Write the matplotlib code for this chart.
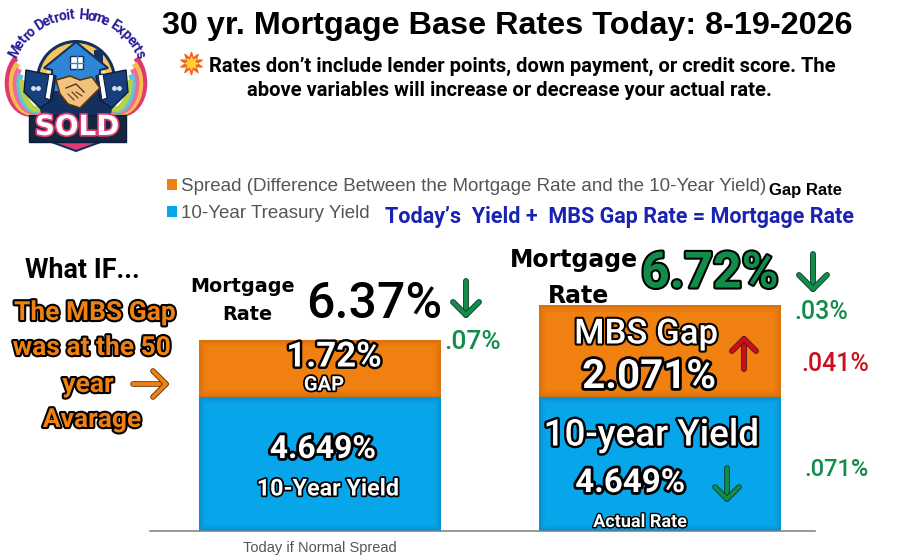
import numpy as np
import matplotlib
matplotlib.use('Agg')
import matplotlib.pyplot as plt
import matplotlib.patheffects as pe
from matplotlib.patches import Polygon, Circle, Rectangle, PathPatch
from matplotlib.path import Path

# --- data ---
bar_names = ['Today if Normal Spread', '']
yield_vals = [4.649, 4.649]
spread_vals = [1.98, 3.19]   # drawn heights, the labels on the bars say otherwise
legend_labels = ['Spread (Difference Between the Mortgage Rate and the 10-Year Yield)',
                 '10-Year Treasury Yield']

ORANGE = '#F0800F'
BLUE = '#07A6EA'
GREEN = '#118C4B'
RED = '#C8101E'
NAVY = '#14305F'

fig = plt.figure(figsize=(9, 5.6), dpi=100, facecolor='white')

# chart axes, bottom sits on the grey baseline
ax = fig.add_axes([150/900, 1-531/560, 665/900, 226/560])
x = np.arange(len(bar_names))
bars1 = ax.bar(x, yield_vals, width=0.712, color=BLUE, zorder=2)
bars2 = ax.bar(x, spread_vals, width=0.712, bottom=yield_vals, color=ORANGE, zorder=2)
ax.set_xlim(-0.5, 1.456)
ax.set_ylim(0, 226*4.649/134)
ax.set_xticks(x)
ax.set_xticklabels(bar_names, family='Liberation Sans', fontsize=10.5, color='#555555')
ax.tick_params(axis='x', length=0, pad=7)
ax.set_yticks([])
for s in ['top', 'left', 'right']:
    ax.spines[s].set_visible(False)
ax.spines['bottom'].set_color('#888888')
ax.spines['bottom'].set_linewidth(1.2)
ax.patch.set_alpha(0)

# darker soft edge on the bars
for b, dark in [(p, '#0A6FA8') for p in bars1] + [(p, '#B5560A') for p in bars2]:
    for lw, a in [(10, 0.08), (6, 0.12), (3, 0.18)]:
        r = Rectangle(b.get_xy(), b.get_width(), b.get_height(), fill=False,
                      edgecolor=dark, linewidth=lw, alpha=a, zorder=3)
        ax.add_patch(r)
        r.set_clip_path(b)

# overlay in picture pixels for the text and logo
ov = fig.add_axes([0, 0, 1, 1])
ov.set_xlim(0, 900)
ov.set_ylim(560, 0)
ov.axis('off')
ov.patch.set_alpha(0)

leg = ax.legend([bars2[0], bars1[0]], legend_labels, loc='upper left',
                bbox_to_anchor=(167, 178), bbox_transform=ov.transData, frameon=False,
                prop={'family': 'Liberation Sans', 'size': 13.5}, labelcolor='#555555',
                handlelength=0.55, handleheight=0.55, handletextpad=0.2,
                labelspacing=0.55, borderpad=0, borderaxespad=0)


def txt(px, py, s, size, color='black', weight='bold', family='Roboto', ha='center',
        stroke=None, sw=3):
    # +4: centre of the glyphs falls a little above the va centre
    t = ov.text(px, py+4, s, fontsize=size, color=color, fontweight=weight, family=family,
                ha=ha, va='center', zorder=10)
    if stroke:
        t.set_path_effects([pe.withStroke(linewidth=sw, foreground=stroke)])
    return t


def arrow(x0, y0, x1, y1, head, color, lw=3.5):
    d = np.array([x1-x0, y1-y0], float)
    d = d/np.hypot(*d)
    n = np.array([-d[1], d[0]])
    tip = np.array([x1, y1])
    a = tip - d*head + n*head
    b = tip - d*head - n*head
    edge = {GREEN: '#0B3A22', RED: '#5A1010'}.get(color, '#5A2A00')
    effects = [pe.Stroke(linewidth=lw+1.2, foreground=edge), pe.Normal()]
    for xs, ys in [([x0, x1], [y0, y1]), ([a[0], x1, b[0]], [a[1], y1, b[1]])]:
        ov.plot(xs, ys, color=color, lw=lw, solid_capstyle='round', solid_joinstyle='round',
                path_effects=effects, zorder=11)


# titles
txt(507, 22, '30 yr. Mortgage Base Rates Today: 8-19-2026', 23.3, family='Liberation Sans')
txt(522, 62, 'Rates don\u2019t include lender points, down payment, or credit score. The', 14.5)
txt(509, 87, 'above variables will increase or decrease your actual rate.', 14.5)
# burst where the emoji sits
ov.scatter([191], [63], s=260, marker=(10, 1, 0), color='#F2641E', zorder=10)
ov.scatter([191], [63], s=80, marker=(8, 1, 0), color='#FFD23C', zorder=11)

txt(769, 186, 'Gap Rate', 12, ha='left', family='Liberation Sans')
txt(385, 213, 'Today\u2019s  Yield +  MBS Gap Rate = Mortgage Rate', 15.5, color='#1A22B0', ha='left')

# left side note
txt(82, 267, 'What IF...', 19.4)
for py, px, line in [(309, 95, 'The MBS Gap'), (344, 92, 'was at the 50'),
                     (381, 88, 'year'), (416, 92, 'Avarage')]:
    txt(px, py, line, 19, color=ORANGE, stroke='black', sw=3)
arrow(133, 384, 166, 384, 13, ORANGE, lw=2.8)

# left bar
txt(243, 283, 'Mortgage', 13.8, family='DejaVu Sans')
txt(247, 311, 'Rate', 13.8, family='DejaVu Sans')
txt(374, 300, '6.37%', 36, weight='medium')
arrow(466, 281, 466, 315, 13, GREEN, lw=3)
txt(473, 338, '.07%', 19, color=GREEN, weight='medium')
txt(334, 353, '1.72%', 25, color='white', stroke='black', sw=3.5)
txt(324, 381, 'GAP', 14.5, color='white', stroke='black', sw=2.5)
txt(323, 445, '4.649%', 23, color='white', stroke='black', sw=4)
txt(328, 485, '10-Year Yield', 16.8, color='white', stroke='black', sw=2.5)

# right bar
txt(574, 256, 'Mortgage', 17, family='DejaVu Sans')
txt(578, 292, 'Rate', 17, family='DejaVu Sans')
txt(710, 270, '6.72%', 36, color=GREEN, stroke='black', sw=3)
arrow(813, 254, 813, 289, 14, GREEN, lw=3)
txt(821, 308, '.03%', 18, color=GREEN, weight='medium')
txt(646, 330, 'MBS Gap', 25, color='white', stroke='black', sw=3, weight='medium')
txt(649, 373, '2.071%', 29, color='white', stroke='black', sw=4)
arrow(744, 369, 744, 339, 12, RED, lw=3)
txt(835, 360, '.041%', 18, color=RED, weight='medium')
txt(651, 432, '10-year Yield', 26.5, color='white', stroke='black', sw=3.5, weight='medium')
txt(630, 479, '4.649%', 23.8, color='white', stroke='black', sw=4)
arrow(727, 468, 727, 499, 12, GREEN, lw=2.8)
txt(836, 466, '.071%', 17, color=GREEN, weight='medium')
txt(640, 518, 'Actual Rate', 13, color='white', stroke='black', sw=2)

# --- logo, hand drawn shapes ---
# ribbons either side
rib = ['#E0396F', '#F3C14B', '#F06A9B', '#5CC6D6', '#B7D24A']
CURVE = [Path.MOVETO, Path.CURVE4, Path.CURVE4, Path.CURVE4]
for i, c in enumerate(rib):
    off = i*5.5
    for sgn in (-1, 1):
        pts = [(76+sgn*(60-off*0.3), 58+off), (76+sgn*(78-off), 80+off*0.5),
               (76+sgn*(66-off), 124-off*0.2), (76+sgn*34, 112-off*0.3)]
        ov.add_patch(PathPatch(Path(pts, CURVE), fill=False, edgecolor=c, lw=4.2, zorder=1))
ov.add_patch(Circle((76, 80), 40, facecolor=NAVY, zorder=2))
ov.add_patch(Circle((76, 80), 37, facecolor='#F6C65B', zorder=2))
ov.add_patch(Circle((76, 80), 30, facecolor='#FBE7B0', zorder=2))
ov.add_patch(Polygon([(36, 92), (116, 92), (110, 118), (76, 130), (42, 118)], facecolor=NAVY, zorder=2))
# house
ov.add_patch(Rectangle((94, 50), 9, 16, facecolor=NAVY, zorder=2))
ov.add_patch(Polygon([(76, 42), (108, 68), (100, 70), (100, 92), (52, 92), (52, 70), (44, 68)],
                     facecolor='#2F86D6', edgecolor=NAVY, lw=1.5, zorder=3))
ov.add_patch(Rectangle((70, 56), 13, 13, facecolor='white', edgecolor=NAVY, lw=1, zorder=4))
ov.plot([76.5, 76.5], [56, 69], color='#2F86D6', lw=1, zorder=5)
ov.plot([70, 83], [62.5, 62.5], color='#2F86D6', lw=1, zorder=5)
# sleeves and hands
for sgn in (-1, 1):
    ov.add_patch(Polygon([(76+sgn*50, 70), (76+sgn*20, 76), (76+sgn*24, 100), (76+sgn*36, 108), (76+sgn*52, 92)],
                         facecolor='#173F7C', edgecolor='#0A1E3C', lw=1, zorder=4))
    ov.add_patch(Polygon([(76+sgn*22, 75), (76+sgn*27, 74), (76+sgn*31, 98), (76+sgn*26, 100)],
                         facecolor='white', edgecolor='#0A1E3C', lw=0.8, zorder=5))
    ov.scatter([76+sgn*38, 76+sgn*43], [88, 88], s=6, color='#D8E2F0', zorder=5)
ov.add_patch(Polygon([(56, 80), (70, 76), (80, 80), (92, 77), (100, 88), (90, 98), (80, 108), (68, 104), (60, 94)],
                     facecolor='#F2C27F', edgecolor='#5A3510', lw=1.2, zorder=6))
ov.plot([66, 76, 84], [88, 84, 92], color='#5A3510', lw=1, zorder=7)
ov.plot([68, 74, None, 72, 78, None, 76, 82], [94, 100, None, 92, 98, None, 92, 96],
        color='#5A3510', lw=0.8, zorder=7)
# SOLD banner
ov.add_patch(Polygon([(46, 140), (106, 140), (76, 151)], facecolor='#E0396F', edgecolor=NAVY, lw=1.5, zorder=7))
ov.add_patch(Rectangle((29, 115), 97, 27, facecolor='#14253F', edgecolor='#0A1E3C', lw=1, zorder=8))
s = txt(77, 123, 'SOLD', 20, color='white', stroke='#E0396F', sw=2.5, family='DejaVu Sans')
s.set_zorder(9)

# curved name over the logo
name = 'Metro Detroit Home Experts'
steps = [{'i': 0.5, 't': 0.65, 'l': 0.5, 'r': 0.65, ' ': 0.55, 'M': 1.35, 'H': 1.15}.get(c, 0.95) for c in name]
pos = np.cumsum(steps) - np.array(steps)/2
angs = 152 - (pos-pos[0])/(pos[-1]-pos[0])*126
for c, a in zip(name, angs):
    r = np.radians(a)
    ov.text(77 + 70*np.cos(r), 85 - 70*np.sin(r), c, fontsize=10.2, fontweight='bold',
            family='Roboto', color='#2A1F9A', rotation=a-90,
            rotation_mode='anchor', ha='center', va='center', zorder=10)

fig.savefig('out.png', dpi=100)
